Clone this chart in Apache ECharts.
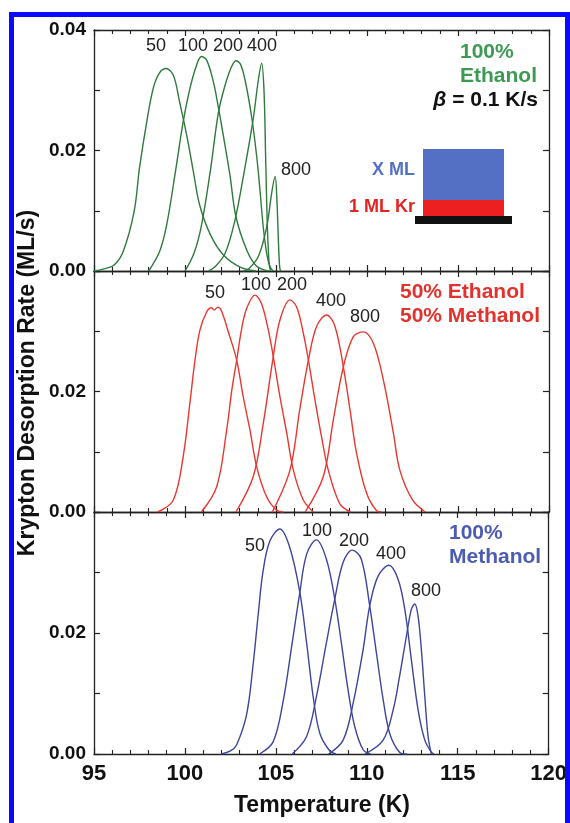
<!DOCTYPE html>
<html>
<head>
<meta charset="utf-8">
<script src="https://cdn.jsdelivr.net/npm/echarts@6/dist/echarts.min.js"></script>
<style>
  html, body { margin: 0; padding: 0; background: #fff; }
  #chart { width: 570px; height: 823px; }
</style>
</head>
<body>
<div id="chart"></div>
<script>
// Temperature (K), desorption rate (ML/s)
const ethanol50 = [[95.0,0],[95.5,0.0003],[96.1,0.001],[96.6,0.0032],[97.2,0.0098],[97.5,0.0171],[97.9,0.0248],[98.26,0.0304],[98.6,0.0329],[98.96,0.0336],[99.36,0.0325],[99.7,0.0281],[100.09,0.0226],[100.46,0.0165],[100.8,0.011],[101.4,0.006],[102.1,0.0027],[103.0,0.0007],[103.9,0]];
const ethanol100 = [[98.0,0],[98.6,0.0032],[98.99,0.0076],[99.5,0.017],[99.9,0.0248],[100.27,0.0303],[100.64,0.0342],[100.9,0.0356],[101.19,0.035],[101.56,0.0314],[101.83,0.0272],[102.1,0.0226],[102.47,0.0159],[102.8,0.009],[103.39,0.0035],[103.94,0.0008],[104.6,0]];
const ethanol200 = [[100.0,0],[100.5,0.003],[100.9,0.0075],[101.4,0.0168],[101.83,0.0262],[102.17,0.0305],[102.5,0.0335],[102.8,0.0349],[103.05,0.0343],[103.3,0.0317],[103.66,0.0256],[103.94,0.019],[104.12,0.0134],[104.3,0.0073],[104.49,0.0029],[104.67,0.0007],[104.85,0]];
const ethanol400 = [[101.3,0],[101.65,0.0007],[102.2,0.0029],[102.75,0.0085],[103.3,0.0173],[103.75,0.0253],[104.03,0.0317],[104.21,0.0345],[104.34,0.03],[104.43,0.019],[104.52,0.0079],[104.62,0.0013],[104.7,0]];
const ethanol800 = [[103.2,0],[103.48,0.0003],[104.03,0.0024],[104.49,0.0073],[104.76,0.0129],[104.95,0.0157],[105.05,0.0118],[105.13,0.0051],[105.2,0.0007],[105.25,0]];

const mixed50 = [[98.5,0],[99.36,0.002],[99.9,0.0092],[100.27,0.0181],[100.55,0.0252],[100.82,0.0302],[101.19,0.0332],[101.45,0.0339],[101.6,0.0335],[101.8,0.034],[102.0,0.0334],[102.4,0.0297],[102.84,0.0252],[103.2,0.0191],[103.57,0.0136],[103.94,0.0075],[104.49,0.0025],[105.04,0.0003],[105.4,0]];
const mixed100 = [[100.9,0],[101.74,0.0042],[102.29,0.0136],[102.57,0.0202],[102.84,0.0252],[103.1,0.0302],[103.39,0.0338],[103.85,0.036],[104.2,0.0346],[104.58,0.0302],[104.85,0.0258],[105.22,0.0191],[105.59,0.0131],[105.95,0.007],[106.5,0.002],[107.05,0]];
const mixed200 = [[102.8,0],[103.75,0.0059],[104.3,0.0147],[104.85,0.0258],[105.22,0.0319],[105.77,0.0352],[106.14,0.034],[106.5,0.0297],[106.78,0.0252],[107.14,0.0186],[107.5,0.0125],[107.87,0.007],[108.5,0.0014],[109.1,0]];
const mixed400 = [[104.8,0],[105.77,0.007],[106.3,0.0169],[106.78,0.0252],[107.23,0.0308],[107.78,0.0327],[108.24,0.0308],[108.7,0.0241],[109.07,0.0169],[109.43,0.0097],[109.98,0.0031],[110.53,0.0002],[110.8,0]];
const mixed800 = [[106.6,0],[107.6,0.0059],[108.15,0.0153],[108.7,0.0241],[109.25,0.0291],[109.8,0.0299],[110.35,0.028],[110.9,0.0219],[111.45,0.0131],[111.8,0.007],[112.5,0.002],[113.2,0]];

const methanol50 = [[102.0,0],[102.5,0.0005],[102.84,0.0015],[103.39,0.0065],[103.75,0.0148],[104.03,0.0231],[104.3,0.0303],[104.67,0.0352],[105.22,0.0372],[105.77,0.0341],[106.32,0.0267],[106.69,0.0184],[107.05,0.0095],[107.42,0.0034],[107.97,0.0005],[108.3,0]];
const methanol100 = [[104.1,0],[104.85,0.002],[105.4,0.0087],[105.86,0.0176],[106.32,0.0267],[106.69,0.033],[107.23,0.0354],[107.78,0.0322],[108.24,0.0256],[108.6,0.0184],[108.97,0.0106],[109.34,0.0045],[109.8,0.0007],[110.2,0]];
const methanol200 = [[105.9,0],[106.69,0.0029],[107.23,0.0095],[107.78,0.0184],[108.24,0.0256],[108.7,0.0317],[109.2,0.0337],[109.7,0.0322],[110.16,0.0245],[110.53,0.0167],[110.9,0.009],[111.26,0.0034],[111.8,0.0003],[112.2,0]];
const methanol400 = [[107.9,0],[108.7,0.0023],[109.25,0.0084],[109.8,0.0173],[110.16,0.0245],[110.62,0.0294],[111.22,0.0312],[111.72,0.0289],[112.09,0.0239],[112.45,0.0156],[112.82,0.0073],[113.19,0.0023],[113.55,0.0003],[113.7,0]];
const methanol800 = [[109.9,0],[110.9,0.0023],[111.45,0.0073],[111.8,0.0128],[112.18,0.0195],[112.45,0.0239],[112.64,0.0248],[112.82,0.0228],[113.0,0.0173],[113.19,0.0095],[113.37,0.0029],[113.55,0]];

const coverages = ['50', '100', '200', '400', '800'];
const xTicks = [95, 100, 105, 110, 115, 120];
const yTicks = [0, 0.02, 0.04];

const FONT = "'Liberation Sans', Arial, Helvetica, sans-serif";

let panels = [
    {curves: [ethanol50, ethanol100, ethanol200, ethanol400, ethanol800], color: '#2f7a3c'},
    {curves: [mixed50, mixed100, mixed200, mixed400, mixed800], color: '#e8372f'},
    {curves: [methanol50, methanol100, methanol200, methanol400, methanol800], color: '#3b469c'}
];
let tops = [30, 271, 512];
let heights = [241, 241, 242];

let chart = echarts.init(document.getElementById('chart'), null, {renderer: 'canvas'});

function tickAxis(gi, pos, withLabels) {
    return {
        type: 'value', gridIndex: gi, position: pos,
        min: xTicks[0], max: xTicks[xTicks.length - 1], interval: 5,
        axisLine: {show: true, onZero: false, lineStyle: {color: '#222', width: 1.3}},
        axisTick: {show: true, inside: true, length: 6, lineStyle: {color: '#222', width: 1.2}},
        minorTick: {show: true, splitNumber: 5, length: 4, lineStyle: {color: '#222', width: 1.1}},
        splitLine: {show: false},
        axisLabel: {show: withLabels, margin: 9, fontSize: 22, fontWeight: 'bold', color: '#111', fontFamily: FONT}
    };
}

function rateAxis(gi, pos, withLabels, showTop) {
    return {
        type: 'value', gridIndex: gi, position: pos,
        min: 0, max: 0.04, interval: 0.01,
        axisLine: {show: true, onZero: false, lineStyle: {color: '#222', width: 1.3}},
        axisTick: {show: true, inside: true, length: 6, lineStyle: {color: '#222', width: 1.2}},
        splitLine: {show: false},
        axisLabel: {
            show: withLabels, margin: 8, fontSize: 19, fontWeight: 'bold', color: '#111', fontFamily: FONT,
            formatter: function (v) {
                let k = Math.round(v * 100);
                if (k === 4 && !showTop) return '';
                if (yTicks.some(t => Math.round(t * 100) === k)) return v.toFixed(2);
                return '';
            }
        }
    };
}

let grids = [], xAxes = [], yAxes = [], series = [];
for (let i = 0; i < 3; i++) {
    grids.push({left: 94, width: 455, top: tops[i], height: heights[i]});
    xAxes.push(tickAxis(i, 'bottom', i === 2));
    xAxes.push(tickAxis(i, 'top', false));
    yAxes.push(rateAxis(i, 'left', true, i === 0));
    yAxes.push(rateAxis(i, 'right', false, false));
    for (let c = 0; c < panels[i].curves.length; c++) {
        series.push({
            name: coverages[c] + '-' + i,
            type: 'line',
            xAxisIndex: i * 2, yAxisIndex: i * 2,
            data: panels[i].curves[c],
            smooth: 0.35,
            showSymbol: false, symbol: 'none',
            clip: true,
            lineStyle: {color: panels[i].color, width: 1.4},
            z: 3
        });
    }
}

// labels and inset
function txt(x, y, text, font, fill, align) {
    return {type: 'text', x: x, y: y, z: 50,
        style: {text: text, font: font, fill: fill, align: align || 'center', verticalAlign: 'middle'}};
}
let numFont = '18px ' + FONT;
let boldFont = 'bold 21px ' + FONT;
let graphic = [
    // top panel coverages
    txt(156, 46, '50', numFont, '#222'),
    txt(193, 46, '100', numFont, '#222'),
    txt(228, 46, '200', numFont, '#222'),
    txt(262, 46, '400', numFont, '#222'),
    txt(296, 170, '800', numFont, '#222'),
    // middle panel
    txt(215, 293, '50', numFont, '#222'),
    txt(256, 285, '100', numFont, '#222'),
    txt(292, 285, '200', numFont, '#222'),
    txt(331, 301, '400', numFont, '#222'),
    txt(365, 317, '800', numFont, '#222'),
    // bottom panel
    txt(255, 546, '50', numFont, '#222'),
    txt(317, 531, '100', numFont, '#222'),
    txt(354, 541, '200', numFont, '#222'),
    txt(391, 554, '400', numFont, '#222'),
    txt(426, 591, '800', numFont, '#222'),
    // sample labels
    txt(460, 52, '100%', boldFont, '#3c9a52', 'left'),
    txt(460, 76, 'Ethanol', boldFont, '#3c9a52', 'left'),
    {type: 'text', x: 538, y: 100, z: 50,
        style: {text: '{i|β} = 0.1 K/s', font: 'bold 21px ' + FONT, fill: '#111', align: 'right', verticalAlign: 'middle',
            rich: {i: {fontStyle: 'italic', fontWeight: 'bold', fontSize: 21, fontFamily: FONT, fill: '#111'}}}},
    txt(400, 292, '50% Ethanol', boldFont, '#e4312b', 'left'),
    txt(400, 316, '50% Methanol', boldFont, '#e4312b', 'left'),
    txt(449, 533, '100%', boldFont, '#4d5cb3', 'left'),
    txt(449, 557, 'Methanol', boldFont, '#4d5cb3', 'left'),
    // layer sketch
    {type: 'rect', z: 40, shape: {x: 423, y: 149, width: 81, height: 52}, style: {fill: '#5470c4'}},
    {type: 'rect', z: 40, shape: {x: 423, y: 200, width: 81, height: 17}, style: {fill: '#ec2020'}},
    {type: 'rect', z: 41, shape: {x: 415, y: 216, width: 97, height: 8}, style: {fill: '#111'}},
    txt(415, 170, 'X ML', 'bold 18px ' + FONT, '#5470c4', 'right'),
    txt(415, 207, '1 ML Kr', 'bold 18px ' + FONT, '#e42420', 'right'),
    // axis titles
    {type: 'text', x: 28, y: 383, rotation: Math.PI / 2, z: 50,
        style: {text: 'Krypton Desorption Rate (ML/s)', font: 'bold 23px ' + FONT, fill: '#111', align: 'center', verticalAlign: 'middle'}},
    txt(322, 806, 'Temperature (K)', 'bold 23px ' + FONT, '#111'),
    // blue frame around the figure
    {type: 'rect', z: 100, shape: {x: 11.5, y: 14.5, width: 556, height: 900},
        style: {fill: 'none', stroke: '#0a0aff', lineWidth: 5}}
];

chart.setOption({
    backgroundColor: '#fff',
    animation: false,
    grid: grids,
    xAxis: xAxes,
    yAxis: yAxes,
    series: series,
    graphic: graphic
});
</script>
</body>
</html>
